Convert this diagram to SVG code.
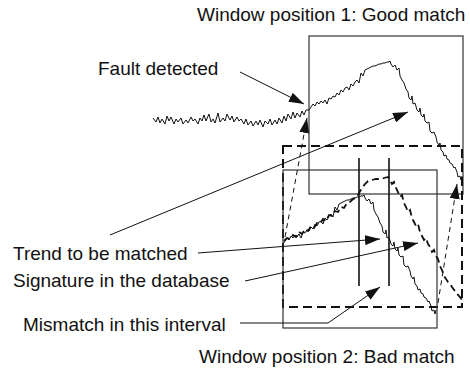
<svg xmlns="http://www.w3.org/2000/svg" width="470" height="371" viewBox="0 0 470 371">
<style>
text{font-family:"Liberation Sans",Arial,sans-serif;font-size:19px;fill:#111}
.sig{fill:none;stroke:#111;stroke-width:1;stroke-linejoin:miter}
.dsig{fill:none;stroke:#111;stroke-width:1.8;stroke-dasharray:7 4}
.win{fill:none;stroke:#333;stroke-width:1.2}
.dwin{fill:none;stroke:#111;stroke-width:2;stroke-dasharray:9 5}
.conn{fill:none;stroke:#111;stroke-width:1}
.dconn{fill:none;stroke:#111;stroke-width:1;stroke-dasharray:5 4}
.vl{stroke:#111;stroke-width:1.6}
</style>
<defs>
<marker id="ah" markerWidth="15" markerHeight="10" refX="15" refY="5" orient="auto" markerUnits="userSpaceOnUse"><path d="M0,0 L15,5 L0,10 z" fill="#111"/></marker>
</defs>
<rect width="470" height="371" fill="#fff"/>
<g id="window1">
<rect class="win" x="309" y="36" width="154" height="158"/>
</g>
<g id="window2">
<rect class="dwin" x="283" y="146" width="179" height="161"/>
<rect class="win" x="283" y="170" width="154" height="158"/>
</g>
<g id="interval">
<line class="vl" x1="359" y1="158" x2="359" y2="286"/>
<line class="vl" x1="389" y1="158" x2="389" y2="286"/>
</g>
<g id="trend1">
<polyline class="sig" points="153,118 156,122 158,117 160,123 162,119 165,124 167,116 169,121 171,117 174,124 176,119 178,122 181,118 183,124 186,120 188,123 191,117 193,121 195,119 198,124 200,118 202,121 204,115 206,121 209,114 211,122 213,119 215,123 218,113 220,122 223,118 225,121 227,114 230,120 232,116 234,122 237,117 239,121 241,119 244,124 246,119 248,125 251,121 253,126 256,121 258,125 260,120 263,127 265,121 268,124 270,119 272,125 275,120 277,124 279,118 282,123 284,116 286,121 288,114 291,119 293,112 295,118 297,113 300,117 302,111 304,115 306,110 309,110 311,107 313,104 315,106 317,102 319,104 321,101 323,103 325,100 327,104 329,98 331,99 333,96 335,97 337,93 339,95 341,90 343,92 345,88 347,87 349,90 351,84 353,86 355,82 357,80 359,83 361,73 363,76 365,70 367,69 369,68 371,67 373,66 375,66 377,65 379,64 381,64 383,63 385,63 387,62 389,62 390,61 391,64 393,67 395,65 397,70 399,68 400,76 402,80 404,83 406,89 408,92 409,98 411,100 412,96 413,104 415,103 417,110 419,112 420,108 421,115 423,117 424,114 425,121 427,123 429,122 430,131 432,133 434,132 436,137 437,142 439,145 440,143 441,150 443,152 444,156 446,155 447,159 449,160 450,163 452,164 454,168 455,167 457,172 458,177 460,176 461,180 462,176"/>
</g>
<g id="trend2" transform="translate(-26,134)">
<polyline class="sig" points="309,110 311,107 313,104 315,106 317,102 319,104 321,101 323,103 325,100 327,104 329,98 331,99 333,96 335,97 337,93 339,95 341,90 343,92 345,88 347,87 349,90 351,84 353,86 355,82 357,80 359,83 361,73 363,76 365,70 367,69 369,68 371,67 373,66 375,66 377,65 379,64 381,64 383,63 385,63 387,62 389,62 390,61 391,64 393,67 395,65 397,70 399,68 400,76 402,80 404,83 406,89 408,92 409,98 411,100 412,96 413,104 415,103 417,110 419,112 420,108 421,115 423,117 424,114 425,121 427,123 429,122 430,131 432,133 434,132 436,137 437,142 439,145 440,143 441,150 443,152 444,156 446,155 447,159 449,160 450,163 452,164 454,168 455,167 457,172 458,177 460,176 461,180 462,176"/>
</g>
<g id="signature">
<polyline class="dsig" points="284,241 287,238 290,239 293,235 296,237 299,232 302,234 305,229 308,231 311,226 314,228 317,223 320,224 323,219 326,221 329,215 332,216 335,211 338,212 341,207 344,208 347,203 350,202 353,199 356,198 359,193 362,188 365,184 368,181 372,180 376,179 380,179 384,178 388,177 390,180 392,184 394,182 396,188 398,192 400,197 402,195 404,203 406,207 408,212 410,210 412,218 414,222 416,226 418,224 420,232 422,236 424,240 426,238 428,244 430,247 432,252 434,250 436,256 438,259 440,266 442,270 444,276 446,279 448,282 450,284 452,287 454,290 456,292 458,295 460,297 462,300"/>
</g>
<g id="connectors">
<line class="conn" x1="240" y1="72" x2="304" y2="104" marker-end="url(#ah)"/>
<line class="conn" x1="110" y1="235" x2="408" y2="112" marker-end="url(#ah)"/>
<line class="conn" x1="198" y1="253" x2="380" y2="239" marker-end="url(#ah)"/>
<line class="conn" x1="245" y1="281" x2="418" y2="243" marker-end="url(#ah)"/>
<polyline class="conn" points="240,323 328,323 380,287" marker-end="url(#ah)"/>
<line class="dconn" x1="285" y1="237" x2="307" y2="118" marker-end="url(#ah)"/>
<line class="dconn" x1="438" y1="303" x2="457" y2="184" marker-end="url(#ah)"/>
</g>
<g id="labels">
<text x="197" y="21">Window position 1: Good match</text>
<text x="98" y="75">Fault detected</text>
<text x="13" y="260">Trend to be matched</text>
<text x="13" y="287">Signature in the database</text>
<text x="23" y="331">Mismatch in this interval</text>
<text x="199" y="363">Window position 2: Bad match</text>
</g>
</svg>
